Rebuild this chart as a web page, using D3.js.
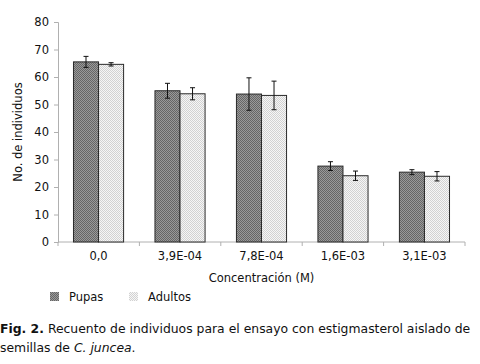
<!DOCTYPE html>
<html>
<head>
<meta charset="utf-8">
<script src="https://cdn.jsdelivr.net/npm/d3@7"></script>
<style>
  body { margin: 0; background: #fff; }
  svg text { font-family: "DejaVu Sans", Verdana, sans-serif; }
</style>
</head>
<body>
<div id="chart"></div>
<script>
const categories = ['0,0', '3,9E-04', '7,8E-04', '1,6E-03', '3,1E-03'];
const seriesNames = ['Pupas', 'Adultos'];
const pupas = [65.5, 55.0, 53.8, 27.6, 25.4];
const adultos = [64.6, 53.9, 53.3, 24.1, 23.9];
const pupasErr = [2.0, 2.7, 5.9, 1.6, 0.9];
const adultosErr = [0.6, 2.2, 5.2, 1.7, 1.7];
const yTicks = [0, 10, 20, 30, 40, 50, 60, 70, 80];

const width = 480, height = 364;
const margin = {left: 58, right: 15, top: 22, bottom: 122};

const svg = d3.select('#chart').append('svg')
    .attr('width', width)
    .attr('height', height);

// hatch-like fill patterns
const defs = svg.append('defs');
function addPattern(id, base, dot) {
    const p = defs.append('pattern')
        .attr('id', id)
        .attr('width', 2).attr('height', 2)
        .attr('patternUnits', 'userSpaceOnUse');
    p.append('rect').attr('width', 2).attr('height', 2).attr('fill', base);
    p.append('rect').attr('width', 1).attr('height', 1).attr('fill', dot);
    p.append('rect').attr('x', 1).attr('y', 1).attr('width', 1).attr('height', 1).attr('fill', dot);
}
addPattern('patPupas', '#9a9a9a', '#666666');
addPattern('patAdultos', '#f6f6f6', '#d2d2d2');
const fills = ['url(#patPupas)', 'url(#patAdultos)'];

const x = d3.scaleBand()
    .domain(categories)
    .range([margin.left, width - margin.right])
    .paddingInner(0.385)
    .paddingOuter(0.19);
const x1 = d3.scaleBand()
    .domain(seriesNames)
    .range([0, x.bandwidth()]);
const y = d3.scaleLinear()
    .domain([0, 80])
    .range([height - margin.bottom, margin.top]);

// y axis
const yAxis = svg.append('g')
    .attr('transform', `translate(${margin.left},0)`)
    .call(d3.axisLeft(y).tickValues(yTicks).tickSize(4).tickPadding(5));
yAxis.select('.domain').attr('stroke', '#b0b0b0');
yAxis.selectAll('.tick line').attr('stroke', '#b0b0b0');
yAxis.selectAll('.tick text').attr('font-size', 11.5).attr('fill', '#111');

// x axis with ticks at band boundaries
const x0 = margin.left, xEnd = width - margin.right;
const step = (xEnd - x0) / categories.length;
const xAxis = svg.append('g').attr('transform', `translate(0,${y(0)})`);
xAxis.append('line')
    .attr('x1', x0).attr('x2', xEnd)
    .attr('stroke', '#b0b0b0');
xAxis.selectAll('line.tk')
    .data(d3.range(categories.length + 1))
    .enter().append('line')
    .attr('class', 'tk')
    .attr('x1', i => x0 + i * step).attr('x2', i => x0 + i * step)
    .attr('y1', 0).attr('y2', 4)
    .attr('stroke', '#b0b0b0');
xAxis.selectAll('text')
    .data(categories)
    .enter().append('text')
    .attr('x', d => x(d) + x.bandwidth() / 2)
    .attr('y', 18)
    .attr('text-anchor', 'middle')
    .attr('font-size', 11.5)
    .attr('fill', '#111')
    .text(d => d);

// bars
const seriesVals = [pupas, adultos];
const seriesErr = [pupasErr, adultosErr];
seriesNames.forEach((name, s) => {
    const g = svg.append('g');
    g.selectAll('rect')
        .data(categories)
        .enter().append('rect')
        .attr('x', d => x(d) + x1(name))
        .attr('y', (d, i) => y(seriesVals[s][i]))
        .attr('width', x1.bandwidth())
        .attr('height', (d, i) => y(0) - y(seriesVals[s][i]))
        .attr('fill', fills[s])
        .attr('stroke', '#2a2a2a')
        .attr('stroke-width', 1);

    // error bars
    const eb = g.selectAll('g.err')
        .data(categories)
        .enter().append('g')
        .attr('class', 'err');
    const cx = d => x(d) + x1(name) + x1.bandwidth() / 2;
    eb.append('line')
        .attr('x1', cx).attr('x2', cx)
        .attr('y1', (d, i) => y(seriesVals[s][i] + seriesErr[s][i]))
        .attr('y2', (d, i) => y(seriesVals[s][i] - seriesErr[s][i]))
        .attr('stroke', '#111');
    [1, -1].forEach(sign => {
        eb.append('line')
            .attr('x1', d => cx(d) - 2.5).attr('x2', d => cx(d) + 2.5)
            .attr('y1', (d, i) => y(seriesVals[s][i] + sign * seriesErr[s][i]))
            .attr('y2', (d, i) => y(seriesVals[s][i] + sign * seriesErr[s][i]))
            .attr('stroke', '#111');
    });
});

// axis titles
svg.append('text')
    .attr('transform', `translate(22,${(y(0) + y(80)) / 2}) rotate(-90)`)
    .attr('text-anchor', 'middle')
    .attr('font-size', 11.5)
    .attr('fill', '#111')
    .text('No. de individuos');

svg.append('text')
    .attr('x', (x0 + xEnd) / 2)
    .attr('y', 282)
    .attr('text-anchor', 'middle')
    .attr('font-size', 11.5)
    .attr('fill', '#111')
    .text('Concentración (M)');

// legend
const legendX = [50, 129];
seriesNames.forEach((name, s) => {
    svg.append('rect')
        .attr('x', legendX[s]).attr('y', 292)
        .attr('width', 9).attr('height', 9)
        .attr('fill', fills[s]);
    svg.append('text')
        .attr('x', legendX[s] + 19).attr('y', 301)
        .attr('font-size', 11.5)
        .attr('fill', '#111')
        .text(name);
});

// caption
const cap1 = svg.append('text')
    .attr('x', 0).attr('y', 333)
    .attr('font-size', 12.4)
    .attr('fill', '#111');
cap1.append('tspan').attr('font-weight', 'bold').text('Fig. 2.');
cap1.append('tspan').text(' Recuento de individuos para el ensayo con estigmasterol aislado de');
const cap2 = svg.append('text')
    .attr('x', 0).attr('y', 352)
    .attr('font-size', 12.4)
    .attr('fill', '#111');
cap2.append('tspan').text('semillas de ');
cap2.append('tspan').attr('font-style', 'italic').text('C. juncea');
cap2.append('tspan').text('.');
</script>
</body>
</html>
